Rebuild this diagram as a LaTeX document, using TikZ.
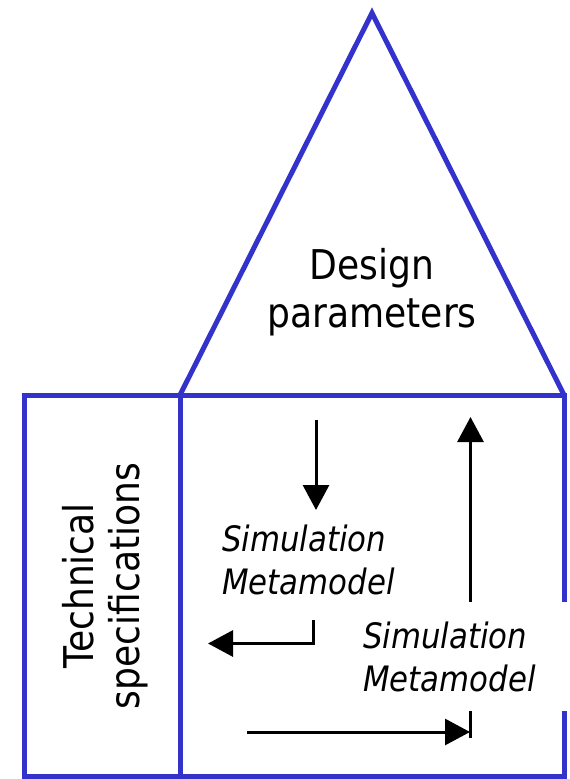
\documentclass[tikz,border=0pt]{standalone}
\usepackage{fontspec}
\setmainfont{DejaVu Sans}[FakeStretch=0.88]
\usetikzlibrary{arrows.meta}
\definecolor{frameblue}{RGB}{51,51,204}
\begin{document}
\begin{tikzpicture}[x=1pt, y=-1pt, line join=miter,
  frame/.style={draw=frameblue, line width=5pt},
  flow/.style={draw=black, line width=3pt, -{Triangle[length=25pt,width=26pt]}},
  bigtext/.style={font=\fontsize{41}{48}\selectfont, align=center, inner sep=0pt},
  meta/.style={font=\fontsize{35}{43}\selectfont\itshape, align=left, inner sep=0pt}]
  \useasboundingbox (0,0) rectangle (570,779);

  % frame corners
  \coordinate (apex) at (372,13);
  \coordinate (lt) at (24,395);
  \coordinate (mt) at (180,395);
  \coordinate (rt) at (564,395);
  \coordinate (lb) at (24,776);
  \coordinate (mb) at (180,776);
  \coordinate (rb) at (564,776);

  % roof and the two boxes
  \draw[frame] (mt) -- (apex) -- (rt);
  \draw[frame] (lt) rectangle (mb);
  \draw[frame] (mt) rectangle (rb);

  % arrow end points
  \coordinate (a0) at (316,420);
  \coordinate (a1) at (316,510);
  \coordinate (b0) at (313,620);
  \coordinate (b1) at (208,643.5);
  \coordinate (c0) at (247,732);
  \coordinate (c1) at (470,732);
  \coordinate (d0) at (470.5,738);
  \coordinate (d1) at (470.5,417);

  % upward flow, partly hidden by the second label
  \draw[flow] (d0) -- (d1);

  % labels
  \node[bigtext] (design) at (372,292.6) {Design\\parameters};
  \node[bigtext, font=\fontsize{41}{46}\selectfont, rotate=90] (specs) at (105,586) {Technical\\specifications};
  \node[meta, anchor=west] (meta1) at (222,560) {Simulation\\Metamodel};
  \node[meta, fill=white, anchor=west, text width=200pt, inner xsep=8pt,
        minimum height=109pt] (meta2) at (355,656.5) {Simulation\\Metamodel};

  % remaining flows
  \draw[flow] (a0) -- (a1);
  \draw[flow] (b0) |- (b1);
  \draw[flow] (c0) -- (c1);
\end{tikzpicture}
\end{document}
